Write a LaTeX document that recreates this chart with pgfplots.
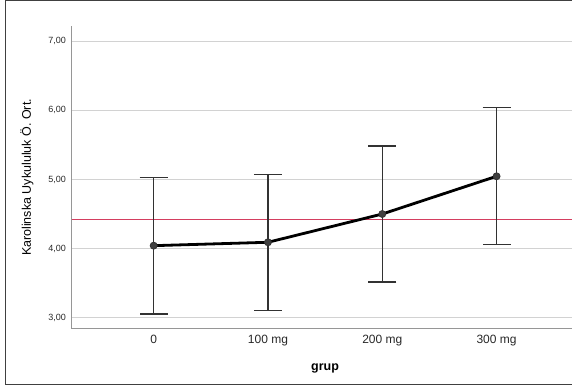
\documentclass[border=0pt]{standalone}
\usepackage{pgfplots}
\pgfplotsset{compat=1.18}
\usepackage{fontspec}
\setmainfont{Liberation Sans}
\definecolor{gridc}{HTML}{D2D2D2}
\definecolor{axc}{HTML}{969696}
\definecolor{refred}{HTML}{D43E60}
\definecolor{errc}{HTML}{323232}
\definecolor{mkc}{HTML}{404040}
\definecolor{txt}{HTML}{282828}
\begin{document}
\begin{tikzpicture}
\useasboundingbox (0pt,0pt) rectangle (572pt,385pt);
\draw[line width=1pt, draw=black!75] (572pt,384.5pt) -- (5.5pt,384.5pt) -- (5.5pt,0.8pt) -- (572pt,0.8pt);
\begin{axis}[
  at={(71.5pt,56pt)}, anchor=south west,
  width=500.5pt, height=303pt, scale only axis,
  xmin=-0.719, xmax=3.66, ymin=2.836, ymax=7.221,
  axis x line=bottom, axis y line=left,
  axis line style={-, draw=axc, line width=1pt},
  ymajorgrids, grid style={draw=gridc, line width=1pt},
  major tick length=0pt,
  xtick={0,1,2,3}, xticklabels={0,100 mg,200 mg,300 mg},
  ytick={3,4,5,6,7},
  /pgf/number format/.cd, assume math mode=true, fixed, fixed zerofill, precision=2, use comma,
  /pgfplots/.cd,
  yticklabel style={font=\fontsize{9}{10}\selectfont, text=txt, xshift=-2pt},
  xticklabel style={font=\fontsize{12}{14}\selectfont, text=txt, yshift=-3pt},
  clip=false,
]
\addplot[draw=refred, line width=1.2pt, mark=none, forget plot] table {
x y
-0.719 4.415
3.66 4.415
};
\addplot[draw=none, mark=none,
  error bars/.cd, y dir=both, y explicit,
  error bar style={color=errc, line width=1.2pt},
  error mark options={rotate=90, color=errc, line width=1.2pt, mark size=14pt}]
  coordinates {
  (0,4.042) +- (0,0.99)
  (1,4.091) +- (0,0.984)
  (2,4.500) +- (0,0.985)
  (3,5.046) +- (0,0.99)
  };
\addplot[color=black, line width=2.8pt, mark=*, mark size=3.5pt,
  mark options={fill=mkc, draw=black!80, line width=0.8pt}]
  coordinates {(0,4.042) (1,4.091) (2,4.500) (3,5.046)};
\end{axis}
\node[rotate=90, font=\fontsize{12.5}{14}\selectfont] at (27pt,207.5pt) {Karolinska Uykululuk Ö. Ort.};
\node[font=\fontsize{12.5}{14}\selectfont\bfseries] at (325pt,17pt) {grup};
\end{tikzpicture}
\end{document}
